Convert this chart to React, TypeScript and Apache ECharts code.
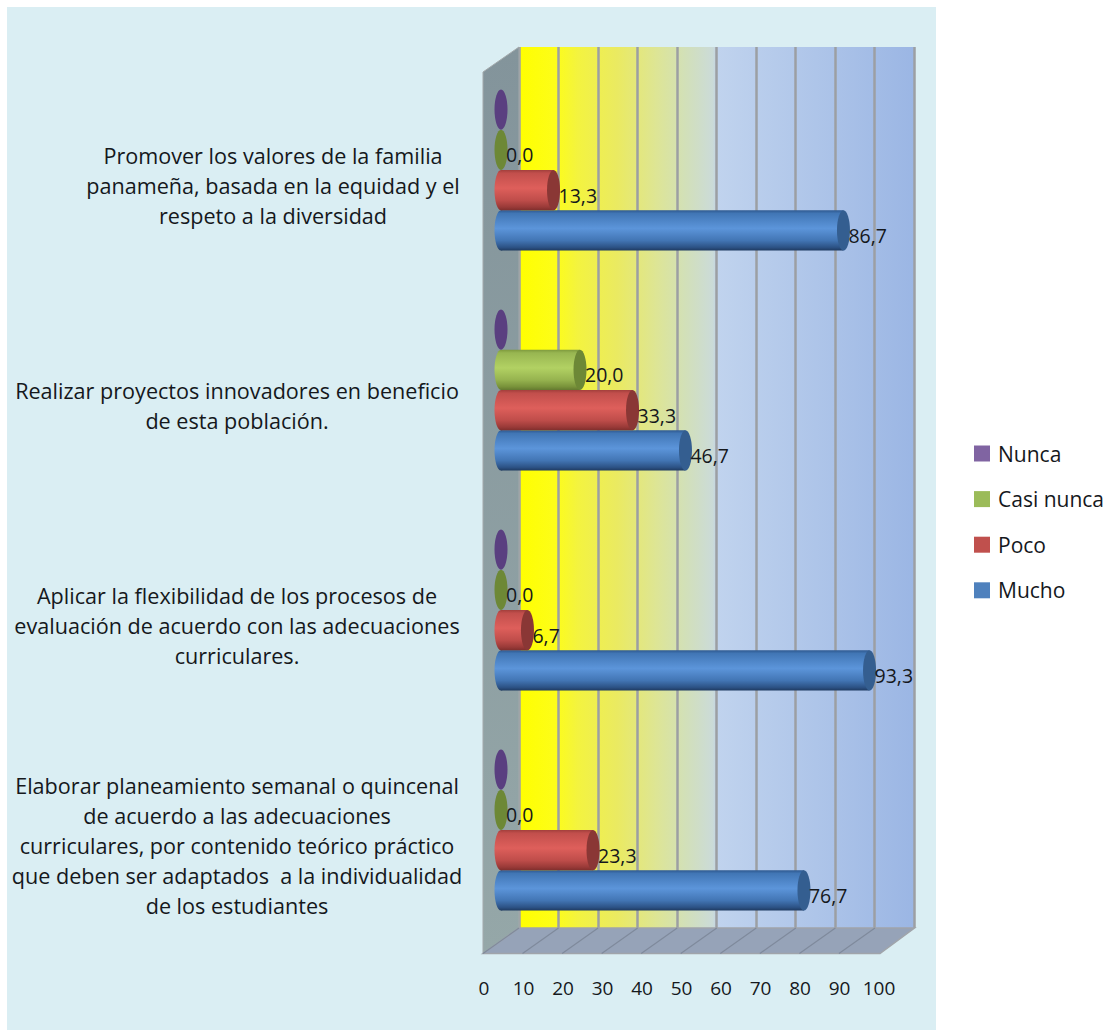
import React, { useEffect, useRef } from "react";
import * as echarts from "echarts";

// Categories run bottom-up along the y axis.
const categories = [
  "Elaborar planeamiento semanal o quincenal\nde acuerdo a las adecuaciones\ncurriculares, por contenido teórico práctico\nque deben ser adaptados  a la individualidad\nde los estudiantes",
  "Aplicar la flexibilidad de los procesos de\nevaluación de acuerdo con las adecuaciones\ncurriculares.",
  "Realizar proyectos innovadores en beneficio\nde esta población.",
  "Promover los valores de la familia\npanameña, basada en la equidad y el\nrespeto a la diversidad",
];
const mucho = [76.7, 93.3, 46.7, 86.7];
const poco = [23.3, 6.7, 33.3, 13.3];
const casiNunca = [0.0, 0.0, 20.0, 0.0];
const nunca = [0, 0, 0, 0];
const legendOrder = ["Nunca", "Casi nunca", "Poco", "Mucho"];
const axisTicks = [0, 10, 20, 30, 40, 50, 60, 70, 80, 90, 100];

const FONT = "Open Sans";
const BAR = 40.3;

const vGrad = (stops: [number, string][]) => ({
  type: "linear", x: 0, y: 0, x2: 0, y2: 1,
  colorStops: stops.map(([offset, color]) => ({ offset, color })),
});

const palette = [
  { name: "Mucho", values: mucho, legend: "#4F81BD", cap: "#345e90", labelled: true,
    body: [[0, "#2f5a91"], [0.08, "#4176b5"], [0.45, "#5c95da"], [0.75, "#4275b4"], [0.92, "#2c5285"], [1, "#1e3a60"]] },
  { name: "Poco", values: poco, legend: "#C0504D", cap: "#8a3735", labelled: true,
    body: [[0, "#a33f3c"], [0.08, "#c24f4c"], [0.45, "#de5f5b"], [0.75, "#bf4d4a"], [0.92, "#993a38"], [1, "#7f2e2c"]] },
  { name: "Casi nunca", values: casiNunca, legend: "#9BBB59", cap: "#6d8836", labelled: true,
    body: [[0, "#7e9a3d"], [0.08, "#98b651"], [0.45, "#b2d163"], [0.75, "#96b34f"], [0.92, "#78923a"], [1, "#64792f"]] },
  { name: "Nunca", values: nunca, legend: "#8064A2", cap: "#5a3f80", labelled: false,
    body: [[0, "#5a3f80"], [1, "#5a3f80"]] },
];

const fmt = (v: number) => v.toFixed(1).replace(".", ",");

function cylinderSeries(entry: (typeof palette)[number], slot: number) {
  return {
    type: "custom",
    name: entry.name,
    xAxisIndex: 0,
    yAxisIndex: 0,
    z: 5 + slot,
    itemStyle: { color: entry.legend },
    encode: { x: 0, y: 1 },
    data: entry.values.map((v, i) => [v, i]),
    renderItem: (_p: any, api: any) => {
      const value = api.value(0);
      const [xEnd, yMid] = api.coord([value, api.value(1)]);
      const [xStart] = api.coord([0, api.value(1)]);
      const cy = yMid + (1.5 - slot) * BAR;
      const rx = 6.5;
      const ry = BAR / 2;
      const children: any[] = [];
      if (value > 0) {
        const body = vGrad(entry.body as [number, string][]);
        children.push(
          { type: "ellipse", shape: { cx: xStart, cy, rx, ry }, style: { fill: body } },
          { type: "rect", shape: { x: xStart, y: cy - ry, width: xEnd - xStart, height: BAR }, style: { fill: body } },
        );
      }
      children.push({ type: "ellipse", shape: { cx: xEnd, cy, rx, ry }, style: { fill: entry.cap } });
      if (entry.labelled) {
        children.push({
          type: "text",
          x: xEnd + 5,
          y: cy + 5,
          z2: 10,
          style: { text: fmt(value), fill: "#15181c", fontFamily: FONT, fontSize: 19.5, verticalAlign: "middle", align: "left" },
        });
      }
      return { type: "group", children };
    },
  };
}

function buildOption() {
  // Box corners of the pseudo-3D plot: front plane and rear wall.
  const fl = 483, bl = 519, br = 914.5, fr = 880, top = 47, topFront = 72, floorBack = 928, floorFront = 953.5;
  const step = (br - bl) / (axisTicks.length - 1);
  const floorLines = axisTicks.slice(0, -1).map((_, i) => ({
    type: "line",
    z: 1,
    shape: { x1: fl + i * step, y1: floorFront, x2: bl + i * step, y2: floorBack },
    style: { stroke: "#7f8a9c", lineWidth: 1.2 },
  }));

  return {
    animation: false,
    backgroundColor: "#ffffff",
    graphic: [
      { type: "rect", z: -10, shape: { x: 7, y: 7, width: 929, height: 1023 }, style: { fill: "#daeef3" } },
      {
        type: "polygon", z: 1,
        shape: { points: [[fl, topFront], [bl, top], [bl, floorBack], [fl, floorFront]] },
        style: { fill: vGrad([[0, "#83949b"], [1, "#95a7a8"]]), stroke: "#a3a9ab", lineWidth: 1 },
      },
      {
        type: "polygon", z: 1,
        shape: { points: [[fl, floorFront], [bl, floorBack], [br, floorBack], [fr, floorFront]] },
        style: { fill: "#96a3b8", stroke: "#a0a4aa", lineWidth: 1.5 },
      },
      ...floorLines,
    ],
    legend: {
      orient: "vertical",
      left: 969,
      top: 438,
      icon: "rect",
      itemWidth: 16,
      itemHeight: 16,
      itemGap: 24.6,
      data: legendOrder,
      textStyle: { fontFamily: FONT, fontSize: 21, color: "#15181c", padding: [0, 0, 0, 3] },
    },
    grid: [
      { left: 501, width: 395, top: 60, height: 880 },
      {
        left: 519, width: 395, top: 47, height: 881, show: true, borderWidth: 0, z: 0,
        backgroundColor: {
          type: "linear", x: 0, y: 0, x2: 1, y2: 0,
          colorStops: [
            { offset: 0, color: "#ffff00" },
            { offset: 0.09, color: "#fdfd18" },
            { offset: 0.15, color: "#f3f340" },
            { offset: 0.25, color: "#eaea62" },
            { offset: 0.35, color: "#dde596" },
            { offset: 0.42, color: "#d2e0b8" },
            { offset: 0.49, color: "#cbdbd8" },
            { offset: 0.505, color: "#c0d3ee" },
            { offset: 0.7, color: "#b2c8ea" },
            { offset: 1, color: "#9bb6e4" },
          ],
        },
      },
      { left: 484, width: 395, top: 953, height: 20 },
    ],
    xAxis: [
      { type: "value", gridIndex: 0, min: 0, max: 100, interval: 10, show: false },
      {
        type: "value", gridIndex: 1, min: 0, max: 100, interval: 10,
        axisLine: { show: false }, axisTick: { show: false }, axisLabel: { show: false },
        splitLine: { show: true, lineStyle: { color: "#9c9fa3", width: 2.5 } },
      },
      {
        type: "value", gridIndex: 2, min: 0, max: 100, interval: 10, position: "bottom",
        axisLine: { show: false }, axisTick: { show: false }, splitLine: { show: false },
        axisLabel: { show: true, margin: 5, color: "#15181c", fontFamily: FONT, fontSize: 19, showMinLabel: true, showMaxLabel: true },
      },
    ],
    yAxis: [
      {
        type: "category", gridIndex: 0, data: categories,
        axisLine: { show: false }, axisTick: { show: false }, splitLine: { show: false },
        axisLabel: {
          show: true,
          interval: 0,
          margin: 264,
          align: "center",
          verticalAlign: "middle",
          padding: [30, 0, 0, 0],
          formatter: (text: string, index: number) =>
            text.split("\n").map((l) => `{${index === 3 ? "s" : "n"}|${l}}`).join("\n"),
          rich: {
            n: { fontFamily: FONT, fontSize: 21.6, lineHeight: 30, color: "#15181c", align: "center" },
            s: { fontFamily: FONT, fontSize: 21.6, lineHeight: 30, color: "#15181c", align: "center", padding: [0, 0, 0, 72] },
          },
        },
      },
      { type: "value", gridIndex: 1, min: 0, max: 1, show: false },
      { type: "value", gridIndex: 2, min: 0, max: 1, show: false },
    ],
    series: palette.map((entry, slot) => cylinderSeries(entry, slot)),
  };
}

export default function App() {
  const ref = useRef<HTMLDivElement>(null);
  useEffect(() => {
    const chart = echarts.init(ref.current!, undefined, { renderer: "svg" });
    chart.setOption(buildOption() as any);
    return () => chart.dispose();
  }, []);
  return <div ref={ref} style={{ position: "absolute", left: 0, top: 0, width: 1108, height: 1030 }} />;
}
